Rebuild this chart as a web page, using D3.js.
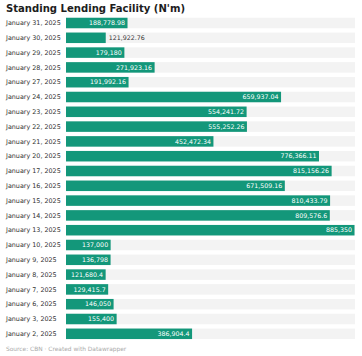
<!DOCTYPE html>
<html><head><meta charset="utf-8">
<script src="https://cdn.jsdelivr.net/npm/d3@7"></script>
<style>
html,body{margin:0;padding:0;background:#fff;}
svg{display:block;font-family:"DejaVu Sans", sans-serif;}
</style></head>
<body>
<svg id="chart" width="362" height="356"></svg>
<script>
const dates = ["January 31, 2025","January 30, 2025","January 29, 2025","January 28, 2025","January 27, 2025","January 24, 2025","January 23, 2025","January 22, 2025","January 21, 2025","January 20, 2025","January 17, 2025","January 16, 2025","January 15, 2025","January 14, 2025","January 13, 2025","January 10, 2025","January 9, 2025","January 8, 2025","January 7, 2025","January 6, 2025","January 3, 2025","January 2, 2025"];
const values = [188778.98,121922.76,179180,271923.16,191992.16,659937.04,554241.72,555252.26,452472.34,776366.11,815156.26,671509.16,810433.79,809576.6,885350,137000,136798,121680.4,129415.7,146050,155400,386904.4];
const valueLabels = ["188,778.98","121,922.76","179,180","271,923.16","191,992.16","659,937.04","554,241.72","555,252.26","452,472.34","776,366.11","815,156.26","671,509.16","810,433.79","809,576.6","885,350","137,000","136,798","121,680.4","129,415.7","146,050","155,400","386,904.4"];
const title = "Standing Lending Facility (N'm)";
const footer = "Source: CBN · Created with Datawrapper";

const svg = d3.select("#chart");
const x = d3.scaleLinear().domain([0, 885350]).range([66, 354.5]);
const y = d3.scaleBand().domain(dates).range([15.6, 341.2]).paddingInner(0.29).paddingOuter(0.145);

const tt = svg.append("text").attr("x", 6).attr("y", 12.4)
  .attr("font-size", 10.5).attr("font-weight", 700).attr("fill", "#1d1d1d")
  .text(title);
const tw = tt.node().getComputedTextLength();
if (Math.abs(tw - 179) > 3) tt.attr("textLength", 179).attr("lengthAdjust", "spacingAndGlyphs");

const row = svg.selectAll("g.row").data(dates).enter().append("g").attr("class","row");
row.append("rect").attr("x", x(0)).attr("y", d => y(d))
  .attr("width", x.range()[1] - x(0) + 0.5).attr("height", y.bandwidth()).attr("fill", "#f3f3f3");
row.append("rect").attr("x", x(0)).attr("y", d => y(d))
  .attr("width", (d,i) => x(values[i]) - x(0)).attr("height", y.bandwidth()).attr("fill", "#13977a");
row.append("text").attr("x", 6).attr("y", d => y(d) + y.bandwidth()/2)
  .attr("dy", "0.35em").attr("font-size", 6.4).attr("fill", "#333").text(d => d);

row.each(function(d,i){
  const g = d3.select(this);
  const t = g.append("text").attr("y", y(d) + y.bandwidth()/2).attr("dy","0.35em")
    .attr("font-size", 6.3).text(valueLabels[i]);
  const w = t.node().getComputedTextLength();
  const bw = x(values[i]) - x(0);
  if (w + 5 > bw) {
    t.attr("x", x(values[i]) + 3).attr("text-anchor","start").attr("fill","#333");
  } else {
    t.attr("x", x(values[i]) - 2.5).attr("text-anchor","end").attr("fill","#fff");
  }
});

svg.append("text").attr("x", 6).attr("y", 351)
  .attr("font-size", 5.9).attr("fill", "#aaa").text(footer);
</script>
</body></html>
